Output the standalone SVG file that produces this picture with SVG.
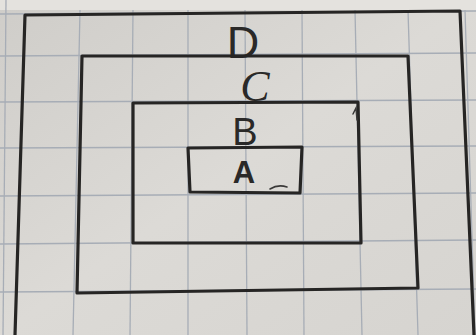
<svg xmlns="http://www.w3.org/2000/svg" width="476" height="335" viewBox="0 0 476 335">
<defs>
<linearGradient id="paper" x1="0" y1="0" x2="1" y2="1">
<stop offset="0" stop-color="#cfcdc9"/>
<stop offset="0.5" stop-color="#dcdad6"/>
<stop offset="1" stop-color="#d6d4d0"/>
</linearGradient>
</defs>
<style>
.grid{stroke:#a7adb6;stroke-width:1.3;fill:none}
.box{stroke:#262524;stroke-width:3.2;fill:none;stroke-linecap:round;stroke-linejoin:round}
.lbl{font-family:"Liberation Sans",Arial,sans-serif;fill:#2a2928;text-anchor:middle}
.cur{font-family:"Liberation Serif","Times New Roman",serif;font-style:italic;fill:#2a2928;text-anchor:middle}
.mark{stroke:#3a3938;stroke-width:1.5;fill:none;stroke-linecap:round}
</style>
<rect width="476" height="335" fill="url(#paper)"/>
<rect width="476" height="10" fill="#e4e2de"/>
<g id="grid">
<line class="grid" x1="6" y1="0" x2="3" y2="335"/>
<line class="grid" x1="80" y1="10" x2="73" y2="335"/>
<line class="grid" x1="133" y1="10" x2="130" y2="335"/>
<line class="grid" x1="188" y1="10" x2="188" y2="335"/>
<line class="grid" x1="245" y1="10" x2="247" y2="335"/>
<line class="grid" x1="302" y1="10" x2="304" y2="335"/>
<line class="grid" x1="355" y1="10" x2="362" y2="335"/>
<line class="grid" x1="408" y1="10" x2="418" y2="335"/>
<line class="grid" x1="465" y1="10" x2="475" y2="335"/>
<line class="grid" x1="0" y1="14" x2="476" y2="11"/>
<line class="grid" x1="0" y1="56" x2="476" y2="53"/>
<line class="grid" x1="0" y1="102" x2="476" y2="100"/>
<line class="grid" x1="0" y1="148" x2="476" y2="146"/>
<line class="grid" x1="0" y1="196" x2="476" y2="193"/>
<line class="grid" x1="0" y1="244" x2="476" y2="240"/>
<line class="grid" x1="0" y1="292" x2="476" y2="289"/>
</g>
<g id="connectors"/>
<g id="node-D">
<path class="box" d="M15,335 L25,15 L460,11 L474,335"/>
<text class="lbl" x="243" y="58" font-size="45">D</text>
</g>
<g id="node-C">
<path class="box" d="M82,56 L408,56 L418,288 L77,293 Z"/>
<text class="cur" x="255" y="101" font-size="44">C</text>
</g>
<g id="node-B">
<path class="box" d="M133,103 L358,102 L361,243 L133,243 Z"/>
<path class="mark" d="M353,114 L356,108 L357,120"/>
<text class="lbl" x="245" y="145" font-size="38">B</text>
</g>
<g id="node-A">
<path class="box" d="M188,148 L302,147 L300,193 L190,192 Z"/>
<path class="mark" d="M270,189 Q278,184 287,187"/>
<text class="lbl" x="244" y="183" font-size="31" font-weight="bold">A</text>
</g>
</svg>
